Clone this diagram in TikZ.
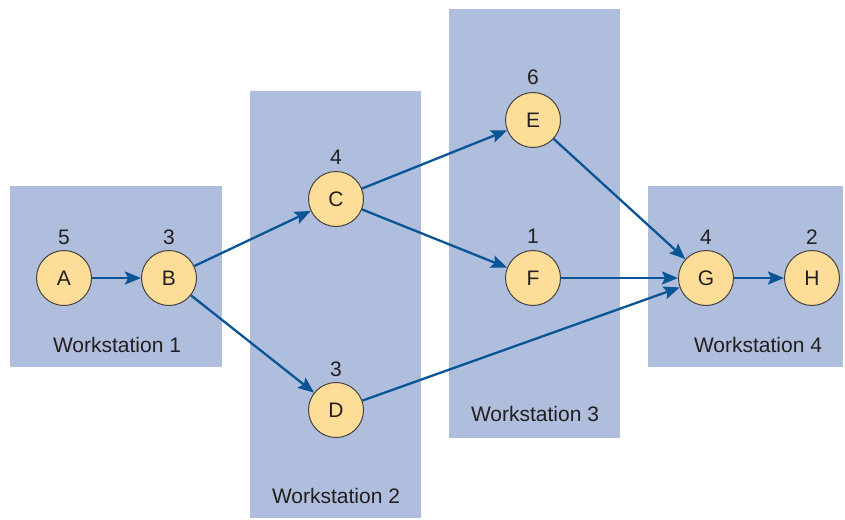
\documentclass[tikz,border=0pt]{standalone}
\usepackage{fontspec}
\setmainfont{Liberation Sans}
\usetikzlibrary{arrows.meta}
\definecolor{wsfill}{HTML}{B0BEDD}
\definecolor{nodefill}{HTML}{FEDD99}
\definecolor{arrowblue}{HTML}{0A5596}
\definecolor{txt}{HTML}{231F20}
\tikzset{
  ws/.style={fill=wsfill, draw=none},
  task/.style={circle, draw=txt!85, line width=1pt, fill=nodefill, minimum size=55pt, inner sep=0pt, font=\fontsize{21}{25}\selectfont, text=txt},
  num/.style={font=\fontsize{21}{25}\selectfont, text=txt, inner sep=0pt},
  wslabel/.style={font=\fontsize{21}{25}\selectfont, text=txt, inner sep=0pt},
  flow/.style={draw=arrowblue, line width=2.3pt, -{Stealth[length=16pt,width=13pt,inset=3pt]}}
}
\begin{document}
\begin{tikzpicture}[x=1pt,y=-1pt]
\useasboundingbox (0,0) rectangle (845,519);
\fill[ws] (10,186) rectangle (222,367);
\fill[ws] (250,91) rectangle (421,518);
\fill[ws] (449,9) rectangle (620,438);
\fill[ws] (648,186) rectangle (843,367);
\node[task] (A) at (64,278) {A};
\node[task] (B) at (169,278) {B};
\node[task] (C) at (336,199) {C};
\node[task] (D) at (336,410) {D};
\node[task] (E) at (533,120) {E};
\node[task] (F) at (533,278) {F};
\node[task] (G) at (706,278) {G};
\node[task] (H) at (812,278) {H};
\node[num] (nA) at (64,237) {5};
\node[num] (nB) at (169,237) {3};
\node[num] (nC) at (336,157) {4};
\node[num] (nD) at (336,369) {3};
\node[num] (nE) at (533,77) {6};
\node[num] (nF) at (533,236) {1};
\node[num] (nG) at (706,237) {4};
\node[num] (nH) at (812,237) {2};
\node[wslabel] (w1) at (117,345) {Workstation 1};
\node[wslabel] (w2) at (336,496) {Workstation 2};
\node[wslabel] (w3) at (535,414) {Workstation 3};
\node[wslabel] (w4) at (758,345) {Workstation 4};
\draw[flow] (A) -- (B);
\draw[flow] (B) -- (C);
\draw[flow] (B) -- (D);
\draw[flow] (C) -- (E);
\draw[flow] (C) -- (F);
\draw[flow] (D) -- (G);
\draw[flow] (E) -- (G);
\draw[flow] (F) -- (G);
\draw[flow] (G) -- (H);
\end{tikzpicture}
\end{document}
